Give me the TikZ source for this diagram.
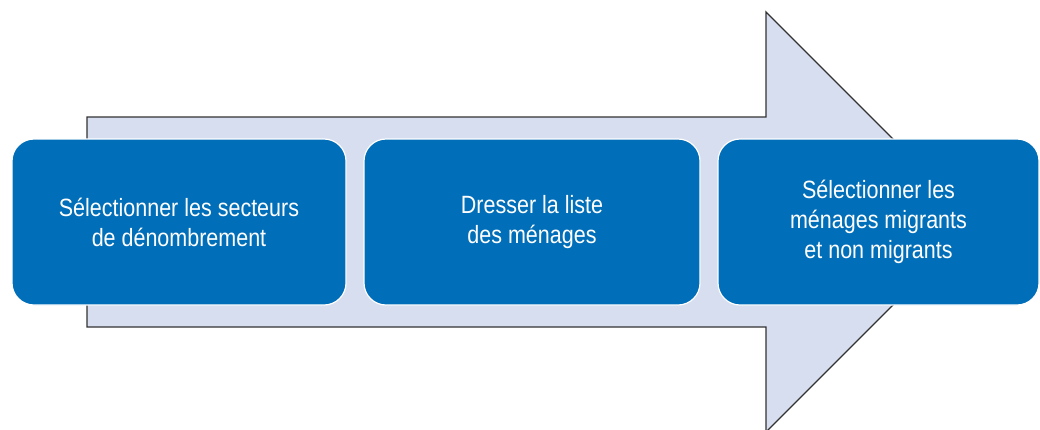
\documentclass[tikz,border=0pt]{standalone}
\usepackage{fontspec}
\setmainfont[FakeStretch=0.86]{Liberation Sans}
\definecolor{boxblue}{RGB}{0,110,184}
\definecolor{arrowfill}{RGB}{214,222,240}
\definecolor{arrowline}{RGB}{50,50,50}
\begin{document}
\begin{tikzpicture}[x=1pt,y=-1pt,
  stepbox/.style={draw=white,line width=1.2pt,fill=boxblue,rounded corners=22pt,
    text=white,align=center,font=\fontsize{25}{30}\selectfont,inner sep=0pt},
  bigarrow/.style={draw=arrowline,line width=1.3pt,fill=arrowfill}]
\useasboundingbox (0,0) rectangle (1040,429);
\coordinate (a1) at (87,117);
\coordinate (a2) at (766,117);
\coordinate (a3) at (766,12);
\coordinate (tip) at (976,222);
\coordinate (a5) at (766,432);
\coordinate (a6) at (766,327);
\coordinate (a7) at (87,327);
\begin{scope}
\clip (0,0) rectangle (1040,429);
\draw[bigarrow] (a1) -- (a2) -- (a3) -- (tip) -- (a5) -- (a6) -- (a7) -- cycle;
\end{scope}
\node[stepbox,minimum width=334pt,minimum height=166pt] (b1) at (179,222)
  {Sélectionner les secteurs\\de dénombrement};
\node[stepbox,minimum width=336pt,minimum height=166pt] (b2) at (532,222)
  {Dresser la liste\\des ménages};
\node[stepbox,minimum width=321pt,minimum height=166pt] (b3) at (878.5,222)
  {Sélectionner les\\ménages migrants\\et non migrants};
\end{tikzpicture}
\end{document}
